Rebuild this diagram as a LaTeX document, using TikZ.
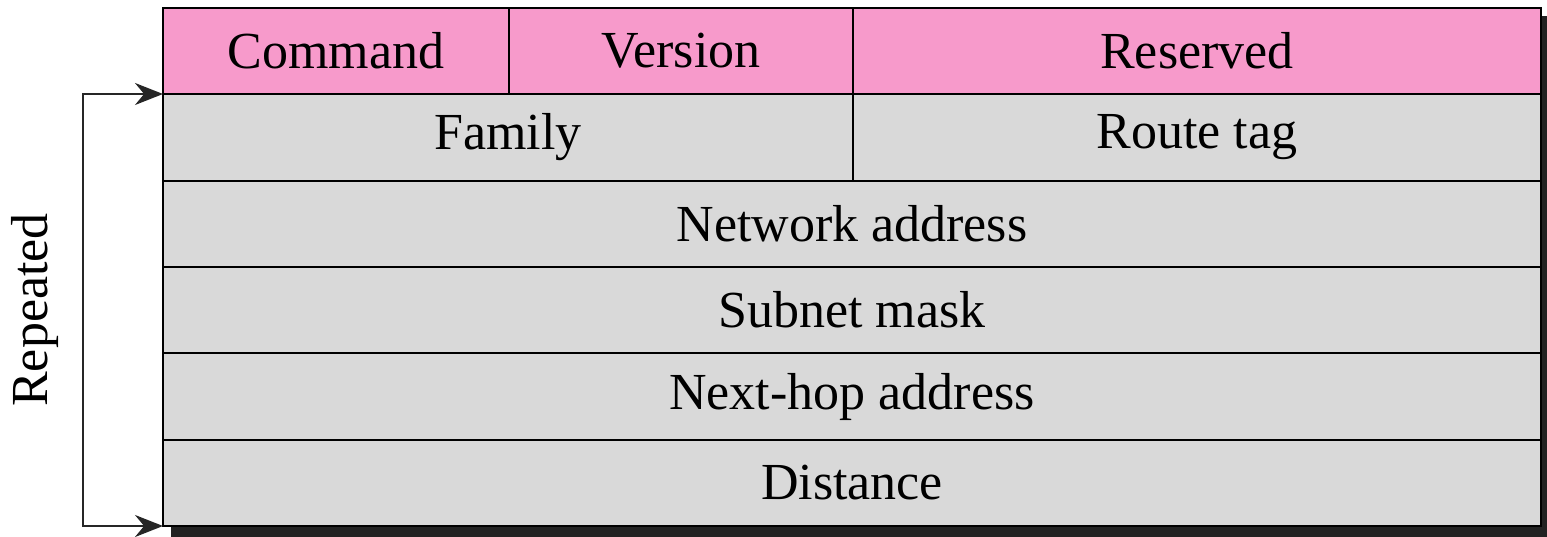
\documentclass[tikz,border=0pt]{standalone}
\usepackage{fontspec}
\setmainfont{Liberation Serif}
\usetikzlibrary{arrows.meta}
\definecolor{hdrpink}{HTML}{F79ACB}
\definecolor{rowgray}{HTML}{D9D9D9}
\definecolor{shadowc}{HTML}{222222}
\tikzset{
  field/.style={draw=black, line width=2.6pt, inner sep=0pt, outer sep=0pt,
    anchor=north west, font=\fontsize{52}{60}\selectfont, text=black},
  hdr/.style={field, fill=hdrpink},
  body/.style={field, fill=rowgray},
  rep/.style={line width=2.2pt, draw=black!85, {Stealth[length=28pt,width=22pt]}-{Stealth[length=28pt,width=22pt]}}
}
\begin{document}
\begin{tikzpicture}[x=1pt,y=-1pt]
\useasboundingbox (0,0) rectangle (1547,537);
\fill[shadowc] (171,16) rectangle (1552,540);
\node[hdr, minimum width=346pt, minimum height=86pt] (cmd) at (163,8) {Command};
\node[hdr, minimum width=344pt, minimum height=86pt] (ver) at (509,8) {Version};
\node[hdr, minimum width=688pt, minimum height=86pt] (res) at (853,8) {Reserved};
\node[body, minimum width=690pt, minimum height=87pt] (fam) at (163,94) {Family};
\node[body, minimum width=688pt, minimum height=87pt] (rtag) at (853,94) {Route tag};
\node[body, minimum width=1378pt, minimum height=86pt] (net) at (163,181) {Network address};
\node[body, minimum width=1378pt, minimum height=86pt] (sub) at (163,267) {Subnet mask};
\node[body, minimum width=1378pt, minimum height=87pt] (nh) at (163,353) {Next-hop address};
\node[body, minimum width=1378pt, minimum height=86pt] (dist) at (163,440) {Distance};
\draw[rep] (fam.north west) -- ++(-80,0) |- (dist.south west);
\node[rotate=90, font=\fontsize{52}{60}\selectfont, inner sep=0pt] (lbl) at (35,310) {Repeated};
\end{tikzpicture}
\end{document}
